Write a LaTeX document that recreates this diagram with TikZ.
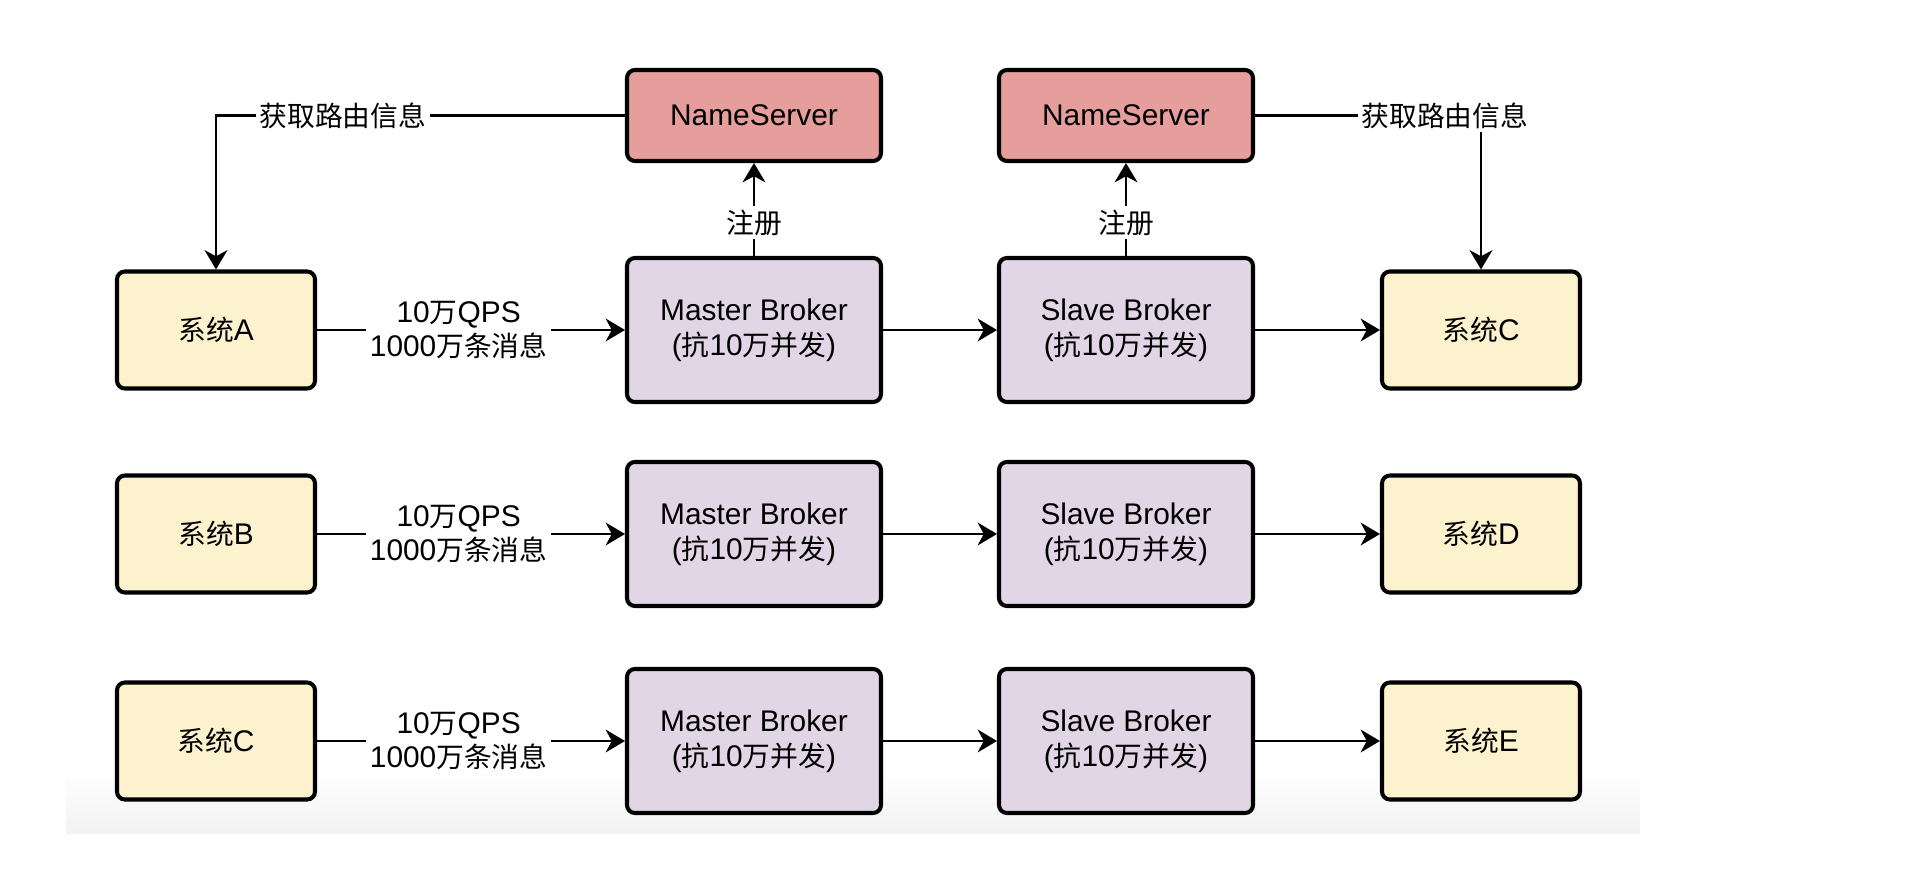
\documentclass[tikz,border=0pt]{standalone}
\usepackage{fontspec}
\setmainfont{Liberation Sans}
\newfontfamily\cjk[Scale=0.93]{Noto Sans CJK SC}
\newcommand{\zh}[1]{{\cjk #1}}
\usepackage{tikz}
\usetikzlibrary{positioning,arrows.meta,shapes}
\definecolor{SysYellow}{RGB}{252,242,206}
\definecolor{BrokerPurple}{RGB}{225,214,230}
\definecolor{NsRed}{RGB}{229,158,156}
\tikzstyle{box} = [rectangle, rounded corners=4.5pt, draw=black, line width=2.3pt, align=center, font=\fontsize{17pt}{19.9pt}\selectfont]
\tikzstyle{sysbox} = [box, minimum width=3.96cm, minimum height=2.34cm, fill=SysYellow]
\tikzstyle{brokerbox} = [box, minimum width=5.08cm, minimum height=2.88cm, fill=BrokerPurple]
\tikzstyle{nsbox} = [box, minimum width=5.08cm, minimum height=1.82cm, fill=NsRed]
\tikzstyle{arrow} = [line width=1.3pt, -{Stealth[length=11pt, width=13pt, inset=3.5pt]}]
\tikzstyle{lbl} = [fill=white, inner sep=2pt, align=center, font=\fontsize{17pt}{19.9pt}\selectfont]

\begin{document}
\begin{tikzpicture}[y=-1cm]
            \useasboundingbox (0,0) rectangle (38.12,17.56);
            % faint band behind the last row
            \shade[top color=white, bottom color=black!5] (1.32,15.4) rectangle (32.8,16.66);

            \node[nsbox] (ns1) at (15.08,2.31) {NameServer};
            \node[nsbox] (ns2) at (22.52,2.31) {NameServer};

            \node[sysbox] (sysA) at (4.32,6.6) {\zh{系统}A};
            \node[brokerbox] (master1) at (15.08,6.6) {Master Broker\\(\zh{抗}10\zh{万并发})};
            \node[brokerbox] (slave1) at (22.52,6.6) {Slave Broker\\(\zh{抗}10\zh{万并发})};
            \node[sysbox] (sysC1) at (29.62,6.6) {\zh{系统}C};

            \node[sysbox] (sysB) at (4.32,10.68) {\zh{系统}B};
            \node[brokerbox] (master2) at (15.08,10.68) {Master Broker\\(\zh{抗}10\zh{万并发})};
            \node[brokerbox] (slave2) at (22.52,10.68) {Slave Broker\\(\zh{抗}10\zh{万并发})};
            \node[sysbox] (sysD) at (29.62,10.68) {\zh{系统}D};

            \node[sysbox] (sysC3) at (4.32,14.82) {\zh{系统}C};
            \node[brokerbox] (master3) at (15.08,14.82) {Master Broker\\(\zh{抗}10\zh{万并发})};
            \node[brokerbox] (slave3) at (22.52,14.82) {Slave Broker\\(\zh{抗}10\zh{万并发})};
            \node[sysbox] (sysE) at (29.62,14.82) {\zh{系统}E};

            \draw[arrow] (ns1.west) -| node[lbl, pos=0.345] {\zh{获取路由信息}} (sysA.north);
            \draw[arrow] (ns2.east) -| node[lbl, pos=0.42] {\zh{获取路由信息}} (sysC1.north);
            \draw[arrow] (master1.north) -- node[lbl, pos=0.36] {\zh{注册}} (ns1.south);
            \draw[arrow] (slave1.north) -- node[lbl, pos=0.36] {\zh{注册}} (ns2.south);

            \draw[arrow] (sysA.east) -- node[lbl, pos=0.46] {10\zh{万}QPS\\1000\zh{万条消息}} (master1);
            \draw[arrow] (master1) -- (slave1);
            \draw[arrow] (slave1) -- (sysC1);
            \draw[arrow] (sysB.east) -- node[lbl, pos=0.46] {10\zh{万}QPS\\1000\zh{万条消息}} (master2);
            \draw[arrow] (master2) -- (slave2);
            \draw[arrow] (slave2) -- (sysD);
            \draw[arrow] (sysC3.east) -- node[lbl, pos=0.46] {10\zh{万}QPS\\1000\zh{万条消息}} (master3);
            \draw[arrow] (master3) -- (slave3);
            \draw[arrow] (slave3) -- (sysE);
\end{tikzpicture}
\end{document}
